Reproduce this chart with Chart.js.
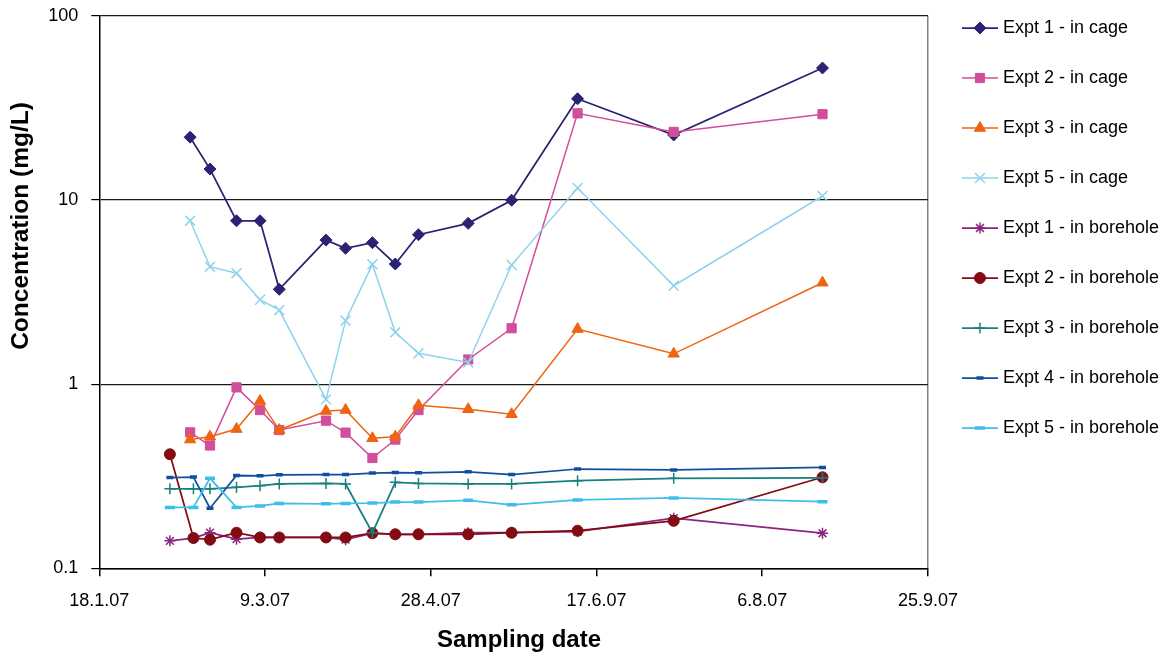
<!DOCTYPE html>
<html>
<head>
<meta charset="utf-8">
<script src="https://cdn.jsdelivr.net/npm/chart.js@4.4.1/dist/chart.umd.min.js"></script>
<style>
  body { margin: 0; background: #fff; }
  #wrap { width: 1172px; height: 657px; }
</style>
</head>
<body>
<div id="wrap"><canvas id="myChart" width="1172" height="657"></canvas></div>
<script>
// sampling days, counted from 18.1.07
var cageDays = [27.4, 33.4, 41.4, 48.5, 54.3, 68.4, 74.3, 82.4, 89.3, 96.3, 111.3, 124.4, 144.3, 173.3, 218.2];
var boreholeDays = [21.3, 28.4, 33.4, 41.4, 48.5, 54.3, 68.4, 74.3, 82.4, 89.3, 96.3, 111.3, 124.4, 144.3, 173.3, 218.2];
// x axis labels, one every 50 days
var dateLabels = ['18.1.07', '9.3.07', '28.4.07', '17.6.07', '6.8.07', '25.9.07'];
var concTicks = [0.1, 1, 10, 100];

// concentrations (mg/L)
var expt1Cage = [21.9, 14.7, 7.7, 7.7, 3.27, 6.05, 5.46, 5.86, 4.49, 6.47, 7.46, 9.96, 35.4, 22.5, 52];
var expt2Cage = [0.547, 0.464, 0.96, 0.723, 0.563, 0.633, 0.545, 0.397, 0.5, 0.723, 1.36, 2.01, 29.5, 23.4, 29.2];
var expt3Cage = [0.5, 0.518, 0.57, 0.81, 0.563, 0.714, 0.723, 0.508, 0.518, 0.767, 0.73, 0.686, 1.99, 1.46, 3.55];
var expt5Cage = [7.71, 4.34, 4.0, 2.87, 2.52, 0.826, 2.21, 4.47, 1.91, 1.47, 1.31, 4.43, 11.6, 3.42, 10.5];
var expt1Bore = [0.141, 0.146, 0.156, 0.144, 0.147, 0.147, 0.147, 0.143, 0.155, 0.153, 0.153, 0.156, 0.156, 0.158, 0.187, 0.155];
var expt2Bore = [0.416, 0.146, 0.143, 0.156, 0.147, 0.147, 0.147, 0.147, 0.155, 0.153, 0.153, 0.153, 0.156, 0.16, 0.181, 0.312];
var expt3Bore = [0.27, 0.27, 0.27, 0.275, 0.281, 0.287, 0.289, 0.287, 0.156, 0.293, 0.289, 0.287, 0.287, 0.299, 0.308, 0.31];
var expt4Bore = [0.311, 0.313, 0.212, 0.319, 0.318, 0.322, 0.323, 0.323, 0.329, 0.331, 0.33, 0.334, 0.323, 0.346, 0.342, 0.353];
var expt5Bore = [0.214, 0.214, 0.308, 0.214, 0.218, 0.225, 0.224, 0.225, 0.226, 0.229, 0.229, 0.234, 0.221, 0.235, 0.241, 0.23];

function pts(days, vals) {
  return vals.map(function (v, i) { return {x: days[i], y: v}; });
}

function series(label, days, vals, color, style, radius, markerWidth, filled, lineWidth) {
  return {
    label: label,
    data: pts(days, vals),
    borderColor: color,
    backgroundColor: color,
    borderWidth: lineWidth,
    pointStyle: style,
    pointRadius: radius,
    pointHoverRadius: radius,
    pointBorderWidth: markerWidth,
    pointBorderColor: color,
    pointBackgroundColor: filled ? color : 'rgba(0,0,0,0)',
    fill: false,
    tension: 0
  };
}

var datasets = [
  series('Expt 1 - in cage', cageDays, expt1Cage, '#2A2272', 'rectRot', 6, 1, true, 1.75),
  series('Expt 2 - in cage', cageDays, expt2Cage, '#D24D9A', 'rect', 6.5, 1, true, 1.5),
  series('Expt 3 - in cage', cageDays, expt3Cage, '#EE6411', 'triangle', 6.5, 1, true, 1.5),
  series('Expt 5 - in cage', cageDays, expt5Cage, '#8FD2EC', 'crossRot', 7, 1.5, false, 1.5),
  series('Expt 1 - in borehole', boreholeDays, expt1Bore, '#8A2581', 'star', 5.5, 1.5, false, 1.75),
  series('Expt 2 - in borehole', boreholeDays, expt2Bore, '#820C12', 'circle', 5.5, 1, true, 1.75),
  series('Expt 3 - in borehole', boreholeDays, expt3Bore, '#15807D', 'cross', 5.5, 1.5, false, 1.75),
  series('Expt 4 - in borehole', boreholeDays, expt4Bore, '#0F4FA0', 'line', 3.5, 3.5, false, 1.75),
  series('Expt 5 - in borehole', boreholeDays, expt5Bore, '#3FBDEB', 'line', 5, 3.5, false, 1.75)
];
// later series on top, like the original
datasets.forEach(function (ds, i) { ds.order = datasets.length - 1 - i; });

// legend glyph: short line with the marker in the middle
function legendIcon(ds) {
  var c = document.createElement('canvas');
  c.width = 42; c.height = 18;
  var g = c.getContext('2d');
  g.strokeStyle = ds.borderColor;
  g.lineWidth = ds.borderWidth;
  g.beginPath(); g.moveTo(6, 9); g.lineTo(42, 9); g.stroke();
  g.fillStyle = ds.pointBackgroundColor;
  g.strokeStyle = ds.pointBorderColor;
  g.lineWidth = ds.pointBorderWidth;
  Chart.helpers.drawPoint(g, {pointStyle: ds.pointStyle, radius: ds.pointRadius, borderWidth: ds.pointBorderWidth, rotation: 0}, 24, 9);
  return c;
}
var icons = datasets.map(legendIcon);

// axis titles (the y one sits above the middle of the axis in the original)
var axisTitles = {
  id: 'axisTitles',
  afterDraw: function (chart) {
    var ctx = chart.ctx;
    ctx.save();
    ctx.font = 'bold 24px "Liberation Sans", Arial, sans-serif';
    ctx.fillStyle = '#000';
    ctx.textAlign = 'center';
    ctx.textBaseline = 'middle';
    ctx.fillText('Sampling date', 519, 640);
    ctx.translate(21, 226);
    ctx.rotate(-Math.PI / 2);
    ctx.font = 'bold 24.5px "Liberation Sans", Arial, sans-serif';
    ctx.fillText('Concentration (mg/L)', 0, 0);
    ctx.restore();
  }
};

Chart.defaults.font.family = '"Liberation Sans", Arial, sans-serif';
Chart.defaults.color = '#000';

var ctx = document.getElementById('myChart');
var myChart = new Chart(ctx, {
  type: 'line',
  data: { datasets: datasets },
  plugins: [axisTitles],
  options: {
    responsive: false,
    animation: false,
    devicePixelRatio: 1,
    layout: { padding: { top: -13, right: 3, left: 0, bottom: 0 } },
    plugins: {
      tooltip: { enabled: false },
      legend: {
        position: 'right',
        align: 'start',
        labels: {
          usePointStyle: true,
          pointStyleWidth: 34,
          padding: 32,
          color: '#000',
          font: { size: 18 },
          sort: function (a, b) { return a.datasetIndex - b.datasetIndex; },
          generateLabels: function (chart) {
            return Chart.defaults.plugins.legend.labels.generateLabels(chart).map(function (l) {
              l.pointStyle = icons[l.datasetIndex];
              return l;
            });
          }
        }
      }
    },
    scales: {
      x: {
        type: 'linear',
        min: 0,
        max: 250,
        border: { color: '#000', width: 1.5 },
        grid: {
          color: function (c) { return c.tick && c.tick.value === 250 ? '#808080' : 'rgba(0,0,0,0)'; },
          tickColor: '#000',
          tickLength: 8,
          lineWidth: 1.5
        },
        ticks: {
          stepSize: 50,
          autoSkip: false,
          maxRotation: 0,
          padding: 14,
          font: { size: 18 },
          color: '#000',
          callback: function (v) { return dateLabels[Math.round(v / 50)]; }
        },
        afterFit: function (s) { s.height = 88.7; }
      },
      y: {
        type: 'logarithmic',
        min: 0.1,
        max: 100,
        afterBuildTicks: function (s) {
          s.ticks = concTicks.map(function (v) { return {value: v}; });
        },
        border: { color: '#000', width: 1.5 },
        grid: { color: '#1a1a1a', lineWidth: 1.2, tickLength: 8, tickColor: '#000' },
        ticks: {
          padding: 13,
          font: { size: 18 },
          color: '#000',
          callback: function (v) { return String(v); }
        },
        afterFit: function (s) { s.width = 99.3; s.paddingTop = 15.7; }
      }
    }
  }
});
</script>
</body>
</html>
